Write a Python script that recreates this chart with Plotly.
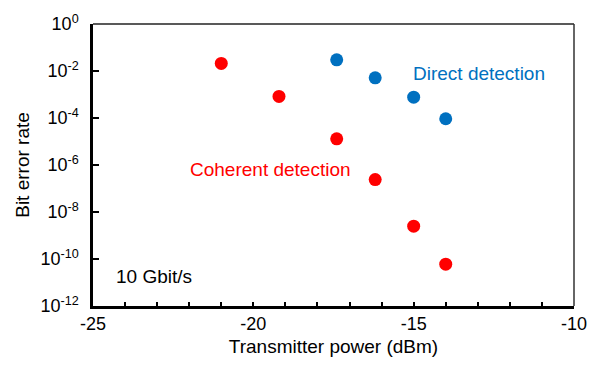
import plotly.graph_objects as go

# Data
coh_power = [-21.0, -19.2, -17.4, -16.2, -15.0, -14.0]
coh_ber = [2.1e-2, 8.3e-4, 1.3e-5, 2.4e-7, 2.5e-9, 6.0e-11]
dir_power = [-17.4, -16.2, -15.0, -14.0]
dir_ber = [3.0e-2, 5.1e-3, 7.7e-4, 9.3e-5]

y_tickvals = [1e0, 1e-2, 1e-4, 1e-6, 1e-8, 1e-10, 1e-12]
y_ticktext = ["10<sup>0</sup>", "10<sup>-2</sup>", "10<sup>-4</sup>", "10<sup>-6</sup>",
              "10<sup>-8</sup>", "10<sup>-10</sup>", "10<sup>-12</sup>"]
x_tickvals = [-25, -20, -15, -10]
x_ticktext = ["-25", "-20", "-15", "-10"]

RED = "#FF0000"
BLUE = "#0070C0"
FONT = "Arial, Liberation Sans, sans-serif"

fig = go.Figure()
fig.add_trace(go.Scatter(x=coh_power, y=coh_ber, mode="markers",
                         marker=dict(color=RED, size=13), name="Coherent detection"))
fig.add_trace(go.Scatter(x=dir_power, y=dir_ber, mode="markers",
                         marker=dict(color=BLUE, size=13), name="Direct detection"))

fig.add_annotation(x=-12.96, y=-2.12, xref="x", yref="y", text="Direct detection",
                   showarrow=False, font=dict(color=BLUE, size=19, family=FONT))
fig.add_annotation(x=-19.48, y=-6.17, xref="x", yref="y", text="Coherent detection",
                   showarrow=False, font=dict(color=RED, size=19, family=FONT))
fig.add_annotation(x=-23.1, y=-10.75, xref="x", yref="y", text="10 Gbit/s",
                   showarrow=False, font=dict(color="black", size=19, family=FONT))

# thin frame on top/right
fig.add_shape(type="line", xref="paper", yref="paper", x0=0, x1=1, y0=1, y1=1,
              line=dict(color="#222222", width=1.5))
fig.add_shape(type="line", xref="paper", yref="paper", x0=1, x1=1, y0=0, y1=1,
              line=dict(color="#333333", width=1.5))

fig.update_layout(
    width=599, height=367,
    margin=dict(l=93, r=25, t=19, b=60),
    plot_bgcolor="white", paper_bgcolor="white",
    showlegend=False,
    font=dict(family=FONT, size=18, color="black"),
    xaxis=dict(range=[-25, -10], tickvals=x_tickvals, ticktext=x_ticktext,
               ticks="inside", ticklen=4, tickwidth=1.5, tickcolor="black",
               minor=dict(dtick=1, ticks="inside", ticklen=4, tickwidth=1.5, tickcolor="black"),
               showline=True, linecolor="black", linewidth=2.5, showgrid=False, zeroline=False,
               title=dict(text="Transmitter power (dBm)", standoff=7, font=dict(size=19)),
               tickfont=dict(size=18)),
    yaxis=dict(type="log", range=[-12, 0], tickvals=y_tickvals, ticktext=y_ticktext,
               ticks="inside", ticklen=6, tickwidth=1.5, tickcolor="black",
               ticklabelstandoff=8,
               showline=True, linecolor="black", linewidth=2.5, showgrid=False, zeroline=False,
               title=dict(text="Bit error rate", standoff=6, font=dict(size=19)),
               tickfont=dict(size=18)),
)

fig.write_html("out.html")
